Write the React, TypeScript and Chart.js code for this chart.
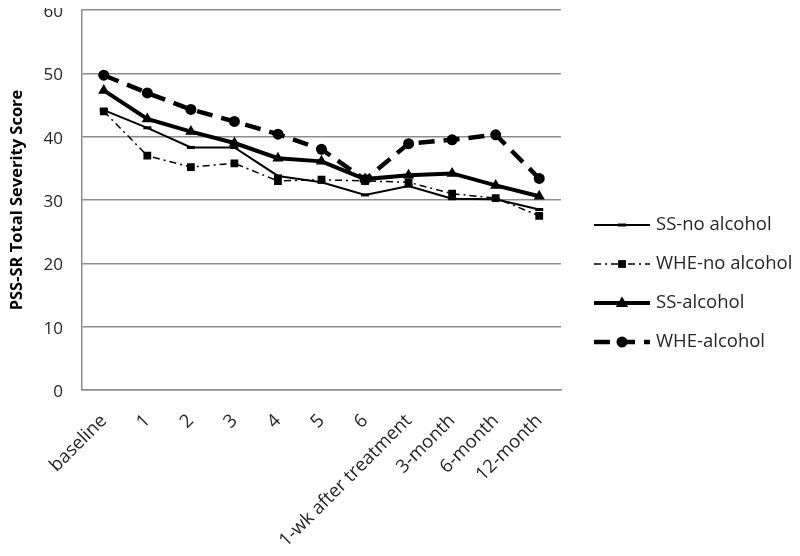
import React, { useEffect, useRef } from 'react';
import { Chart, registerables } from 'chart.js';

Chart.register(...registerables);

const categories = ['baseline', '1', '2', '3', '4', '5', '6', '1-wk after treatment', '3-month', '6-month', '12-month'];
const ssNoAlcohol = [44.2, 41.4, 38.3, 38.3, 33.8, 32.8, 30.8, 32.2, 30.2, 30.1, 28.5];
const wheNoAlcohol = [44.0, 37.0, 35.2, 35.8, 33.0, 33.2, 33.0, 32.8, 31.0, 30.3, 27.5];
const ssAlcohol = [47.3, 42.8, 40.8, 39.0, 36.6, 36.1, 33.3, 33.9, 34.2, 32.3, 30.6];
const wheAlcohol = [49.7, 46.9, 44.3, 42.4, 40.4, 38.0, 33.2, 38.9, 39.5, 40.3, 33.4];
const seriesNames = ['SS-no alcohol', 'WHE-no alcohol', 'SS-alcohol', 'WHE-alcohol'];
const yTicks = [0, 10, 20, 30, 40, 50, 60];
const yTitle = 'PSS-SR Total Severity Score';

const FONT = "'Open Sans', sans-serif";
const TEXT = '#262626';

function drawMarker(ctx: CanvasRenderingContext2D, style: string, x: number, y: number, r: number, bw: number) {
  ctx.save();
  ctx.setLineDash([]);
  ctx.fillStyle = '#000';
  ctx.strokeStyle = '#000';
  ctx.lineWidth = bw;
  ctx.beginPath();
  if (style === 'circle') {
    ctx.arc(x, y, r, 0, Math.PI * 2);
    ctx.fill();
  } else if (style === 'rect') {
    const s = r * Math.SQRT1_2;
    ctx.rect(x - s, y - s, 2 * s, 2 * s);
    ctx.fill();
  } else if (style === 'triangle') {
    ctx.moveTo(x, y - r);
    ctx.lineTo(x + r * 0.95, y + r * 0.6);
    ctx.lineTo(x - r * 0.95, y + r * 0.6);
    ctx.closePath();
    ctx.fill();
  } else if (style === 'line') {
    ctx.moveTo(x - r, y);
    ctx.lineTo(x + r, y);
    ctx.stroke();
  }
  ctx.restore();
}

const legendPlugin = {
  id: 'customLegend',
  afterDraw(chart: any) {
    const ctx: CanvasRenderingContext2D = chart.ctx;
    const area = chart.chartArea;
    const x0 = area.right + 33;
    const x1 = x0 + 56;
    const startY = 225;
    const step = 39;
    chart.data.datasets.forEach((ds: any, i: number) => {
      const y = startY + i * step;
      ctx.save();
      ctx.strokeStyle = '#000';
      ctx.lineWidth = ds.borderWidth;
      ctx.setLineDash(ds.borderDash || []);
      ctx.beginPath();
      ctx.moveTo(x0, y);
      ctx.lineTo(x1, y);
      ctx.stroke();
      ctx.restore();
      drawMarker(ctx, ds.pointStyle, (x0 + x1) / 2, y, ds.pointRadius, ds.pointBorderWidth || 1);
      ctx.save();
      ctx.fillStyle = TEXT;
      ctx.font = `18.5px ${FONT}`;
      ctx.textBaseline = 'middle';
      ctx.textAlign = 'left';
      ctx.fillText(ds.label, x1 + 6, y);
      ctx.restore();
    });
  },
};

export default function App() {
  const ref = useRef<HTMLCanvasElement>(null);
  useEffect(() => {
    if (!ref.current) return;
    const chart = new Chart(ref.current, {
      type: 'line',
      data: {
        labels: categories,
        datasets: [
          {
            label: seriesNames[0],
            data: ssNoAlcohol,
            borderColor: '#000',
            backgroundColor: '#000',
            borderWidth: 2,
            pointStyle: 'line',
            pointRadius: 4,
            pointBorderWidth: 3,
            tension: 0,
          },
          {
            label: seriesNames[1],
            data: wheNoAlcohol,
            borderColor: '#000',
            backgroundColor: '#000',
            borderWidth: 1.5,
            borderDash: [7, 4, 2, 4],
            pointStyle: 'rect',
            pointRadius: 5.5,
            pointBorderWidth: 0,
            tension: 0,
          },
          {
            label: seriesNames[2],
            data: ssAlcohol,
            borderColor: '#000',
            backgroundColor: '#000',
            borderWidth: 4,
            pointStyle: 'triangle',
            pointRadius: 6.5,
            pointBorderWidth: 0,
            tension: 0,
          },
          {
            label: seriesNames[3],
            data: wheAlcohol,
            borderColor: '#000',
            backgroundColor: '#000',
            borderWidth: 4.5,
            borderDash: [16, 9],
            pointStyle: 'circle',
            pointRadius: 5.5,
            pointBorderWidth: 0,
            tension: 0,
          },
        ] as any,
      },
      options: {
        animation: false,
        responsive: true,
        maintainAspectRatio: false,
        layout: { padding: { top: 10, right: 239, left: 7, bottom: 0 } },
        plugins: { legend: { display: false }, tooltip: { enabled: false } },
        scales: {
          x: {
            offset: true,
            grid: { display: false, drawTicks: false },
            border: { display: true, color: '#8c8c8c', width: 1.5 },
            ticks: {
              color: TEXT,
              font: { family: FONT, size: 18.5 },
              maxRotation: 45,
              minRotation: 45,
              autoSkip: false,
              padding: 20,
            },
            afterFit: (s: any) => {
              s.height = 166;
              s.paddingLeft = 0;
              s.paddingRight = 0;
              s.paddingTop = 0;
              s.paddingBottom = 0;
            },
          },
          y: {
            min: 0,
            max: 60,
            grid: { color: '#8c8c8c', lineWidth: 1.5, drawTicks: false },
            border: { display: true, color: '#8c8c8c', width: 1.5 },
            afterBuildTicks: (s: any) => {
              s.ticks = yTicks.map((v) => ({ value: v }));
            },
            ticks: {
              color: TEXT,
              font: { family: FONT, size: 17 },
              padding: 19,
              labelOffset: 2,
            },
            title: {
              display: true,
              text: yTitle,
              color: '#000',
              font: { family: FONT, size: 16.5, weight: 'bold' },
              padding: { top: 0, bottom: 0 },
            },
            afterFit: (s: any) => {
              s.width = 75;
              s.paddingTop = 0;
              s.paddingBottom = 0;
              s.paddingLeft = 0;
              s.paddingRight = 0;
            },
          },
        },
      },
      plugins: [legendPlugin],
    });
    return () => chart.destroy();
  }, []);
  return (
    <div style={{ width: 800, height: 556, margin: -8, position: 'relative' }}>
      <canvas ref={ref} />
    </div>
  );
}
